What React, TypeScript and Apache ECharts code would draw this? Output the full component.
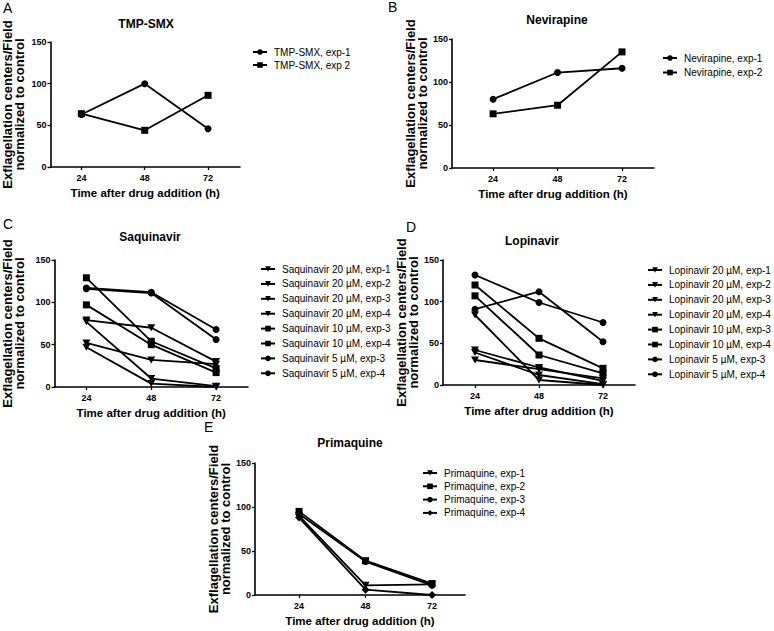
import React, { useEffect, useRef } from "react";
import * as echarts from "echarts";

// ---------- data ----------
const hours = [24, 48, 72];
const tickHours = [24, 48, 72];
const yTicks = [0, 50, 100, 150];

const tmpNames = ["TMP-SMX, exp-1", "TMP-SMX, exp 2"];
const tmpValues = [
  [63, 100, 46],
  [64, 44, 86],
];
const tmpSymbols = ["circle", "rect"];

const nevNames = ["Nevirapine, exp-1", "Nevirapine, exp-2"];
const nevValues = [
  [80, 111, 116],
  [63, 73, 135],
];
const nevSymbols = ["circle", "rect"];

const saqNames = [
  "Saquinavir 20 \u00b5M, exp-1",
  "Saquinavir 20 \u00b5M, exp-2",
  "Saquinavir 20 \u00b5M, exp-3",
  "Saquinavir 20 \u00b5M, exp-4",
  "Saquinavir 10 \u00b5M, exp-3",
  "Saquinavir 10 \u00b5M, exp-4",
  "Saquinavir 5 \u00b5M, exp-3",
  "Saquinavir 5 \u00b5M, exp-4",
];
const saqValues = [
  [79, 70, 30],
  [77, 10, 1],
  [52, 32, 27],
  [47, 4, 0],
  [129, 54, 22],
  [97, 50, 17],
  [117, 112, 68],
  [116, 111, 56],
];
const saqSymbols = ["tri", "tri", "tri", "tri", "rect", "rect", "circle", "circle"];

const lopNames = [
  "Lopinavir 20 \u00b5M, exp-1",
  "Lopinavir 20 \u00b5M, exp-2",
  "Lopinavir 20 \u00b5M, exp-3",
  "Lopinavir 20 \u00b5M, exp-4",
  "Lopinavir 10 \u00b5M, exp-3",
  "Lopinavir 10 \u00b5M, exp-4",
  "Lopinavir 5 \u00b5M, exp-3",
  "Lopinavir 5 \u00b5M, exp-4",
];
const lopValues = [
  [30, 19, 8],
  [84, 6, 0],
  [42, 21, 5],
  [39, 12, 1],
  [120, 56, 20],
  [107, 36, 14],
  [132, 99, 75],
  [91, 112, 52],
];
const lopSymbols = ["tri", "tri", "tri", "tri", "rect", "rect", "circle", "circle"];

const priNames = [
  "Primaquine, exp-1",
  "Primaquine, exp-2",
  "Primaquine, exp-3",
  "Primaquine, exp-4",
];
const priValues = [
  [90, 11, 12],
  [95, 39, 13],
  [92, 38, 11],
  [88, 6, 0],
];
const priSymbols = ["tri", "rect", "circle", "diamond"];

const panelTitles = ["TMP-SMX", "Nevirapine", "Saquinavir", "Lopinavir", "Primaquine"];
const panelLetters = ["A", "B", "C", "D", "E"];
const yAxisTitle = "Exflagellation centers/Field\nnormalized to control";
const xAxisTitle = "Time after drug addition (h)";

// ---------- layout ----------
const FONT = "'Liberation Sans', Arial, sans-serif";
const layout = [
  { grid: { left: 50, top: 42, width: 190, height: 125 }, xMin: 12.3, xMax: 84.1, nameGap: 25, legend: { left: 252, top: 46, gap: 1 }, title: [146, 24], letter: [3, 8] },
  { grid: { left: 452, top: 39, width: 202, height: 129 }, xMin: 8.7, xMax: 83.9, nameGap: 17, legend: { left: 662, top: 52, gap: 2.5 }, title: [557, 20], letter: [388, 7] },
  { grid: { left: 54, top: 260, width: 194, height: 127 }, xMin: 12.2, xMax: 83.8, nameGap: 29, legend: { left: 260, top: 263, gap: 2.9 }, title: [150, 237], letter: [3, 224] },
  { grid: { left: 443, top: 260, width: 192, height: 125 }, xMin: 12, xMax: 84, nameGap: 20, legend: { left: 647, top: 264, gap: 2.9 }, title: [532, 241], letter: [406, 227] },
  { grid: { left: 255, top: 463, width: 210, height: 132 }, xMin: 8.1, xMax: 83.9, nameGap: 15, legend: { left: 422, top: 467, gap: 1.3 }, title: [350, 443], letter: [204, 427] },
];

const panelData = [
  { names: tmpNames, values: tmpValues, symbols: tmpSymbols },
  { names: nevNames, values: nevValues, symbols: nevSymbols },
  { names: saqNames, values: saqValues, symbols: saqSymbols },
  { names: lopNames, values: lopValues, symbols: lopSymbols },
  { names: priNames, values: priValues, symbols: priSymbols },
];

const TRI_DOWN = "path://M0,0 L10,0 L5,9 Z";

function symbolOf(s: string) {
  if (s === "tri") return TRI_DOWN;
  return s;
}
function symbolSizeOf(s: string) {
  if (s === "tri") return [8, 7];
  if (s === "diamond") return 8;
  if (s === "rect") return 7;
  return 7;
}

function buildOption() {
  const grid: any[] = [];
  const xAxis: any[] = [];
  const yAxis: any[] = [];
  const series: any[] = [];
  const legend: any[] = [];
  const graphic: any[] = [];

  layout.forEach((L, i) => {
    grid.push({ ...L.grid, containLabel: false });
    xAxis.push({
      type: "value",
      gridIndex: i,
      min: L.xMin,
      max: L.xMax,
      name: xAxisTitle,
      nameLocation: "middle",
      nameGap: 20,
      nameTextStyle: { fontFamily: FONT, fontWeight: "bold", fontSize: 11.5, color: "#000" },
      axisLine: { show: true, onZero: false, lineStyle: { color: "#000", width: 1.6 } },
      axisTick: { show: true, length: 3, customValues: tickHours, lineStyle: { color: "#000", width: 1.3 } },
      axisLabel: { customValues: tickHours, margin: 6, fontFamily: FONT, fontWeight: "bold", fontSize: 9, color: "#000" },
      splitLine: { show: false },
    });
    yAxis.push({
      type: "value",
      gridIndex: i,
      min: 0,
      max: 150,
      interval: 50,
      name: yAxisTitle,
      nameLocation: "middle",
      nameRotate: 90,
      nameGap: L.nameGap,
      nameTextStyle: { fontFamily: FONT, fontWeight: "bold", fontSize: 13, lineHeight: 12, color: "#000" },
      axisLine: { show: true, lineStyle: { color: "#000", width: 1.6 } },
      axisTick: { show: true, length: 3, customValues: yTicks, lineStyle: { color: "#000", width: 1.3 } },
      axisLabel: { margin: 4, fontFamily: FONT, fontWeight: "bold", fontSize: 9, color: "#000" },
      splitLine: { show: false },
    });
    const D = panelData[i];
    D.names.forEach((nm, k) => {
      series.push({
        type: "line",
        name: nm,
        xAxisIndex: i,
        yAxisIndex: i,
        data: hours.map((h, j) => [h, D.values[k][j]]),
        symbol: symbolOf(D.symbols[k]),
        symbolSize: symbolSizeOf(D.symbols[k]),
        showAllSymbol: true,
        lineStyle: { color: "#000", width: 1.8 },
        itemStyle: { color: "#000", borderColor: "#000", borderWidth: 0 },
        emphasis: { disabled: true },
      });
    });
    legend.push({
      data: D.names,
      orient: "vertical",
      left: L.legend.left,
      top: L.legend.top,
      itemWidth: 14,
      itemHeight: 7,
      itemGap: L.legend.gap,
      padding: 0,
      selectedMode: false,
      textStyle: { fontFamily: FONT, fontSize: 10, lineHeight: 12, color: "#000", padding: [0, 0, 0, 2] },
    });
    graphic.push({
      type: "text",
      x: L.title[0],
      y: L.title[1],
      style: { text: panelTitles[i], font: `bold 12px ${FONT}`, fill: "#000", textAlign: "center", textVerticalAlign: "middle" },
    });
    graphic.push({
      type: "text",
      x: L.letter[0],
      y: L.letter[1],
      style: { text: panelLetters[i], font: `14px ${FONT}`, fill: "#000", textAlign: "left", textVerticalAlign: "middle" },
    });
  });

  return {
    animation: false,
    backgroundColor: "#fff",
    grid,
    xAxis,
    yAxis,
    series,
    legend,
    graphic,
    tooltip: { show: false },
  };
}

export default function App() {
  const ref = useRef<HTMLDivElement>(null);
  useEffect(() => {
    document.body.style.margin = "0";
    if (!ref.current) return;
    const chart = echarts.init(ref.current, undefined, { renderer: "svg" });
    chart.setOption(buildOption() as any);
    return () => chart.dispose();
  }, []);
  return <div ref={ref} style={{ width: 774, height: 631 }} />;
}
